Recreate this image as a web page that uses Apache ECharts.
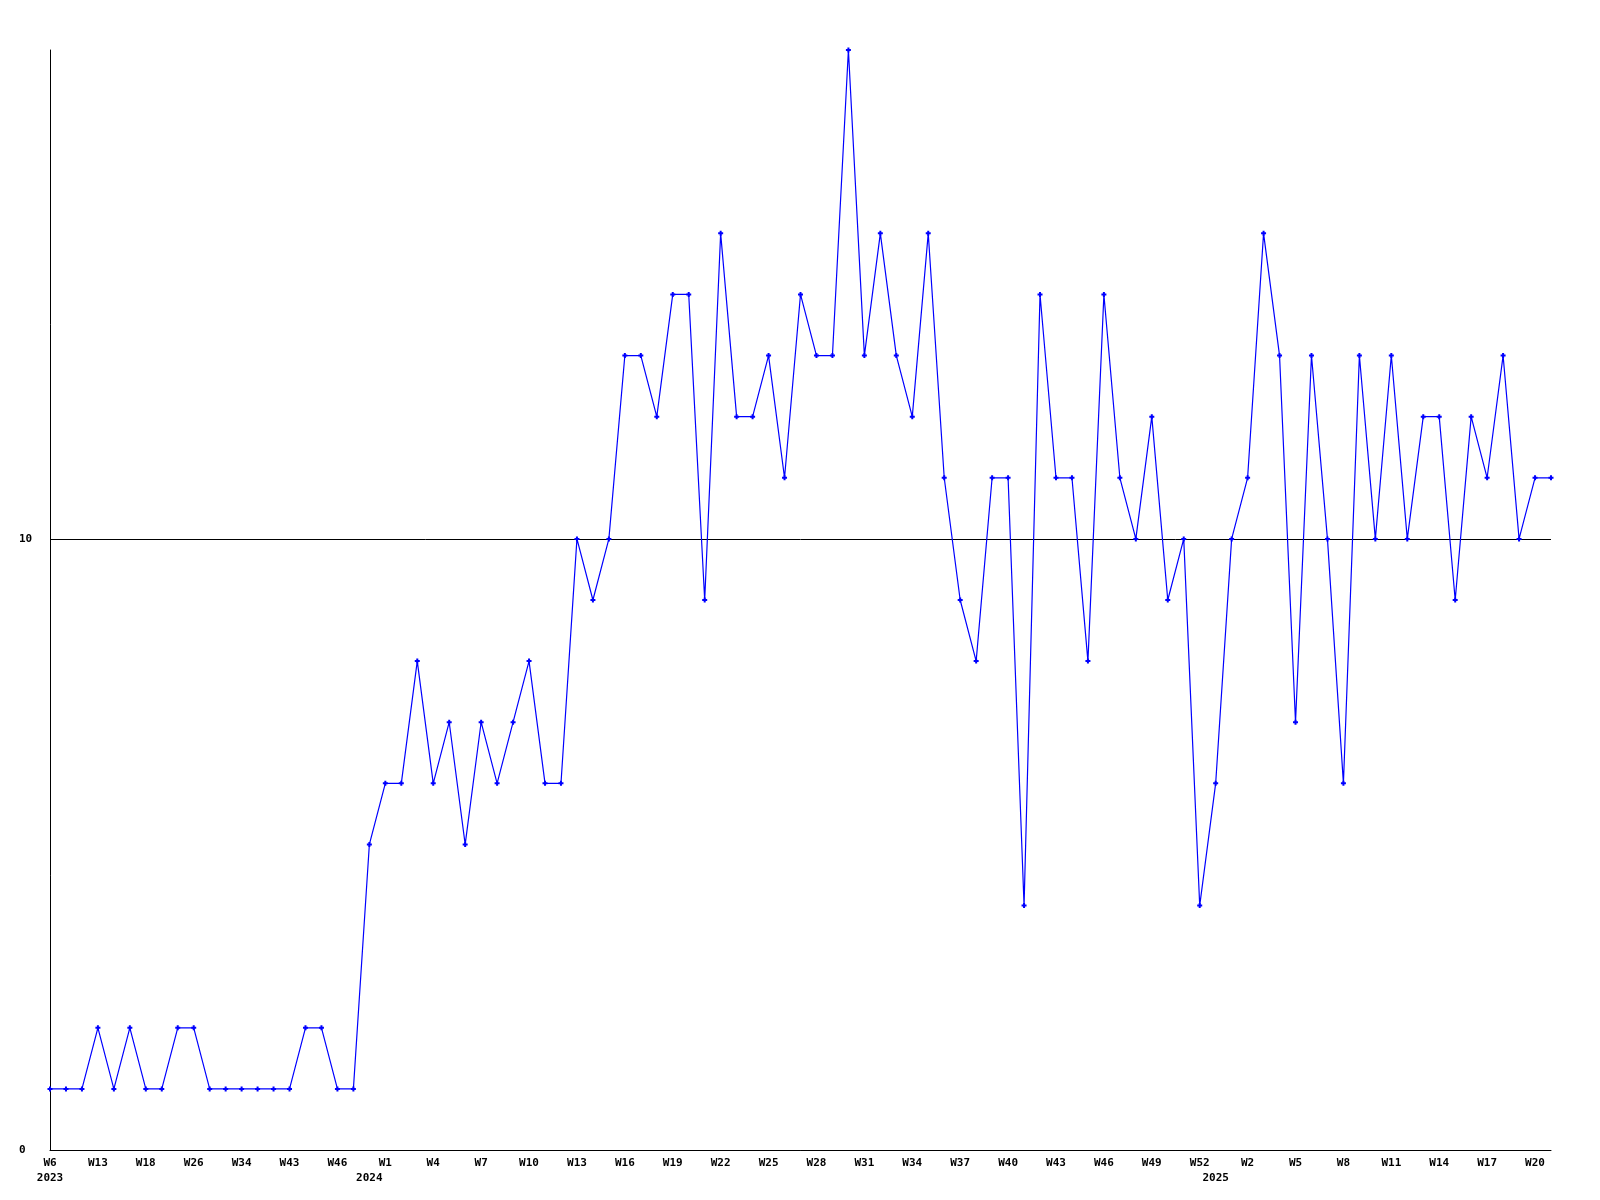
<!DOCTYPE html>
<html>
<head>
<meta charset="utf-8">
<script src="https://cdn.jsdelivr.net/npm/echarts@6/dist/echarts.min.js"></script>
<style>
html,body{margin:0;padding:0;background:#fff;}
#chart{width:1600px;height:1200px;}
</style>
</head>
<body>
<div id="chart"></div>
<script>
// Week categories (2023 sparse, then 2024 W0..W52, 2025 W0..W21)
const weeks = [
  'W6','W8','W10','W13','W14','W16','W18','W21','W24','W26','W28','W31','W34','W37','W40','W43','W44','W45','W46','W50',
  'W0','W1','W2','W3','W4','W5','W6','W7','W8','W9','W10','W11','W12','W13','W14','W15','W16','W17','W18','W19',
  'W20','W21','W22','W23','W24','W25','W26','W27','W28','W29','W30','W31','W32','W33','W34','W35','W36','W37','W38','W39',
  'W40','W41','W42','W43','W44','W45','W46','W47','W48','W49','W50','W51','W52',
  'W0','W1','W2','W3','W4','W5','W6','W7','W8','W9','W10','W11','W12','W13','W14','W15','W16','W17','W18','W19','W20','W21'
];
// Index of the first week of each year, and the year label shown there
const yearStartIndex = [0, 20, 73];
const yearNames = ['2023', '2024', '2025'];

const values = [
  1,1,1,2,1,2,1,1,2,2,1,1,1,1,1,1,2,2,1,1,
  5,6,6,8,6,7,5,7,6,7,8,6,6,10,9,10,13,13,12,14,14,9,15,12,12,13,11,14,13,13,18,13,15,13,12,15,11,9,8,11,11,4,14,11,11,8,14,11,10,12,9,10,4,
  6,10,11,15,13,7,13,10,6,13,10,13,10,12,12,9,12,11,13,10,11,11
];

const yMin = 0, yMax = 18, yInterval = 10;
const labelEvery = 3;

function yearAt(i){
  const k = yearStartIndex.indexOf(i);
  return k >= 0 ? yearNames[k] : null;
}

const chart = echarts.init(document.getElementById('chart'), null, {renderer:'canvas'});
const font = 'DejaVu Sans Mono';
chart.setOption({
  animation: false,
  backgroundColor: '#ffffff',
  grid: {left: 50, right: 49, top: 50, bottom: 50, containLabel: false},
  xAxis: {
    type: 'category',
    data: weeks,
    boundaryGap: false,
    axisLine: {lineStyle: {color: '#000', width: 1}},
    axisTick: {show: false},
    splitLine: {show: false},
    axisLabel: {
      interval: function(i){ return i % labelEvery === 0 || yearAt(i) !== null; },
      formatter: function(v, i){
        const w = (i % labelEvery === 0) ? v : ' ';
        const y = yearAt(i);
        return y ? w + '\n' + y : w;
      },
      color: '#000',
      fontFamily: font,
      fontWeight: 'bold',
      fontSize: 11,
      lineHeight: 15,
      margin: 6,
      hideOverlap: false
    }
  },
  yAxis: {
    type: 'value',
    min: yMin, max: yMax, interval: yInterval,
    axisLine: {show: true, lineStyle: {color: '#000', width: 1}},
    axisTick: {show: false},
    splitLine: {show: true, showMaxLine: false, lineStyle: {color: '#000', width: 1}},
    axisLabel: {
      showMaxLabel: false,
      align: 'left',
      margin: 31,
      color: '#000',
      fontFamily: font,
      fontWeight: 'bold',
      fontSize: 11
    }
  },
  series: [{
    type: 'line',
    data: values,
    symbol: 'path://M1.5,0H3.5V1.5H5V3.5H3.5V5H1.5V3.5H0V1.5H1.5Z',
    symbolSize: 5,
    showAllSymbol: true,
    lineStyle: {color: '#0000ff', width: 1.2},
    itemStyle: {color: '#0000ff'},
    emphasis: {disabled: true}
  }]
});
</script>
</body>
</html>
